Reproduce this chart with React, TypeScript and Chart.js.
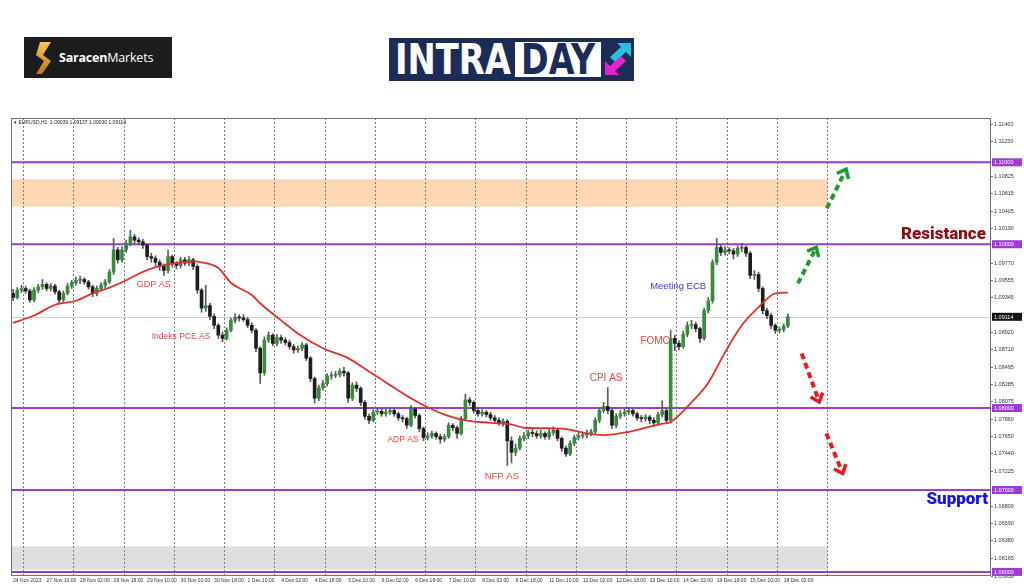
import React, { useEffect, useLayoutEffect, useRef } from 'react';
import { Chart, registerables } from 'chart.js';

Chart.register(...registerables);

// ---------- data ----------
const TIME_LABELS = ['24 Nov 2023', '27 Nov 10:00', '28 Nov 02:00', '28 Nov 18:00', '29 Nov 10:00', '30 Nov 02:00', '30 Nov 18:00', '1 Dec 10:00', '4 Dec 02:00', '4 Dec 18:00', '5 Dec 10:00', '6 Dec 02:00', '6 Dec 18:00', '7 Dec 10:00', '8 Dec 02:00', '8 Dec 18:00', '11 Dec 10:00', '12 Dec 02:00', '12 Dec 18:00', '13 Dec 10:00', '14 Dec 02:00', '14 Dec 18:00', '15 Dec 10:00', '18 Dec 02:00'];

const OPEN = [
  1.0940, 1.0935, 1.0944, 1.0946, 1.0943, 1.0932, 1.0944, 1.0948, 1.0951, 1.0946,
  1.0949, 1.0942, 1.0932, 1.0940, 1.0949, 1.0953, 1.0956, 1.0957, 1.0954, 1.0948,
  1.0940, 1.0946, 1.0950, 1.0954, 1.0966, 1.0993, 1.0981, 1.0993, 1.1001, 1.1009,
  1.1005, 1.1003, 1.0999, 1.0985, 1.0983, 1.0978, 1.0973, 1.0968, 1.0985, 1.0976,
  1.0974, 1.0981, 1.0977, 1.0981, 1.0973, 1.0944, 1.0922, 1.0925, 1.0912, 1.0901,
  1.0889, 1.0885, 1.0895, 1.0907, 1.0911, 1.0910, 1.0908, 1.0901, 1.0895, 1.0873,
  1.0843, 1.0883, 1.0889, 1.0879, 1.0886, 1.0883, 1.0880, 1.0875, 1.0871, 1.0873,
  1.0877, 1.0861, 1.0836, 1.0812, 1.0825, 1.0830, 1.0839, 1.0840, 1.0841, 1.0845,
  1.0843, 1.0812, 1.0828, 1.0824, 1.0807, 1.0790, 1.0785, 1.0795, 1.0796, 1.0793,
  1.0795, 1.0797, 1.0793, 1.0788, 1.0787, 1.0779, 1.0799, 1.0791, 1.0775, 1.0764,
  1.0766, 1.0769, 1.0765, 1.0762, 1.0765, 1.0779, 1.0776, 1.0769, 1.0787, 1.0810,
  1.0807, 1.0797, 1.0793, 1.0795, 1.0792, 1.0788, 1.0785, 1.0782, 1.0784, 1.0760,
  1.0746, 1.0751, 1.0763, 1.0766, 1.0770, 1.0769, 1.0766, 1.0769, 1.0765, 1.0770,
  1.0773, 1.0763, 1.0751, 1.0744, 1.0757, 1.0764, 1.0766, 1.0767, 1.0769, 1.0771,
  1.0785, 1.0797, 1.0802, 1.0797, 1.0779, 1.0790, 1.0793, 1.0795, 1.0797, 1.0793,
  1.0788, 1.0787, 1.0789, 1.0785, 1.0782, 1.0792, 1.0797, 1.0785, 1.0885, 1.0879,
  1.0875, 1.0890, 1.0901, 1.0902, 1.0897, 1.0885, 1.0919, 1.0931, 1.0978, 1.0996,
  1.0990, 1.0993, 1.0992, 1.0988, 1.0995, 1.0996, 1.0989, 1.0962, 1.0963, 1.0946,
  1.0919, 1.0913, 1.0901, 1.0895, 1.0896, 1.0900,
];

const HIGH = [
  1.0945, 1.0947, 1.0950, 1.0949, 1.0945, 1.0947, 1.0951, 1.0957, 1.0953, 1.0952,
  1.0951, 1.0944, 1.0943, 1.0952, 1.0956, 1.0960, 1.0961, 1.0959, 1.0956, 1.0950,
  1.0949, 1.0953, 1.0957, 1.0969, 1.1007, 1.0996, 1.0997, 1.1005, 1.1017, 1.1012,
  1.1008, 1.1006, 1.1001, 1.0989, 1.0986, 1.0981, 1.0976, 1.0993, 1.0987, 1.0979,
  1.0984, 1.0984, 1.0985, 1.0983, 1.0975, 1.0946, 1.0950, 1.0928, 1.0915, 1.0903,
  1.0893, 1.0898, 1.0910, 1.0915, 1.0914, 1.0914, 1.0911, 1.0904, 1.0897, 1.0875,
  1.0887, 1.0893, 1.0891, 1.0890, 1.0889, 1.0886, 1.0883, 1.0878, 1.0876, 1.0880,
  1.0879, 1.0863, 1.0838, 1.0828, 1.0834, 1.0842, 1.0844, 1.0845, 1.0848, 1.0850,
  1.0845, 1.0831, 1.0832, 1.0826, 1.0809, 1.0793, 1.0798, 1.0800, 1.0799, 1.0799,
  1.0800, 1.0799, 1.0795, 1.0791, 1.0789, 1.0803, 1.0801, 1.0793, 1.0777, 1.0770,
  1.0772, 1.0771, 1.0768, 1.0768, 1.0782, 1.0781, 1.0778, 1.0790, 1.0817, 1.0813,
  1.0809, 1.0800, 1.0798, 1.0797, 1.0795, 1.0791, 1.0788, 1.0787, 1.0786, 1.0765,
  1.0756, 1.0766, 1.0770, 1.0773, 1.0774, 1.0772, 1.0773, 1.0771, 1.0774, 1.0777,
  1.0775, 1.0765, 1.0754, 1.0760, 1.0767, 1.0770, 1.0771, 1.0773, 1.0774, 1.0788,
  1.0800, 1.0807, 1.0825, 1.0799, 1.0793, 1.0797, 1.0799, 1.0801, 1.0799, 1.0795,
  1.0791, 1.0792, 1.0791, 1.0788, 1.0795, 1.0809, 1.0799, 1.0895, 1.0889, 1.0882,
  1.0894, 1.0905, 1.0907, 1.0905, 1.0899, 1.0922, 1.0935, 1.0981, 1.1007, 1.0999,
  1.0997, 1.0996, 1.0995, 1.0998, 1.1001, 1.0998, 1.0991, 1.0968, 1.0966, 1.0948,
  1.0922, 1.0916, 1.0903, 1.0899, 1.0903, 1.0915,
];

const LOW = [
  1.0931, 1.0933, 1.0941, 1.0940, 1.0929, 1.0930, 1.0941, 1.0945, 1.0943, 1.0943,
  1.0939, 1.0928, 1.0930, 1.0938, 1.0946, 1.0950, 1.0952, 1.0951, 1.0945, 1.0936,
  1.0937, 1.0944, 1.0947, 1.0952, 1.0963, 1.0977, 1.0978, 1.0990, 1.0998, 1.1001,
  1.0999, 1.0995, 1.0981, 1.0978, 1.0974, 1.0968, 1.0962, 1.0965, 1.0972, 1.0970,
  1.0971, 1.0974, 1.0974, 1.0969, 1.0940, 1.0917, 1.0918, 1.0908, 1.0897, 1.0885,
  1.0881, 1.0883, 1.0893, 1.0904, 1.0906, 1.0906, 1.0898, 1.0892, 1.0869, 1.0830,
  1.0840, 1.0880, 1.0876, 1.0876, 1.0879, 1.0877, 1.0872, 1.0867, 1.0868, 1.0870,
  1.0858, 1.0832, 1.0806, 1.0809, 1.0822, 1.0827, 1.0835, 1.0837, 1.0838, 1.0839,
  1.0807, 1.0809, 1.0820, 1.0803, 1.0786, 1.0781, 1.0783, 1.0792, 1.0790, 1.0790,
  1.0792, 1.0790, 1.0785, 1.0783, 1.0775, 1.0777, 1.0788, 1.0771, 1.0760, 1.0761,
  1.0763, 1.0762, 1.0757, 1.0759, 1.0763, 1.0772, 1.0763, 1.0767, 1.0785, 1.0803,
  1.0794, 1.0790, 1.0790, 1.0789, 1.0785, 1.0781, 1.0779, 1.0778, 1.0730, 1.0733,
  1.0742, 1.0749, 1.0760, 1.0763, 1.0765, 1.0763, 1.0763, 1.0762, 1.0762, 1.0767,
  1.0760, 1.0747, 1.0741, 1.0742, 1.0754, 1.0761, 1.0763, 1.0764, 1.0766, 1.0769,
  1.0782, 1.0794, 1.0793, 1.0775, 1.0776, 1.0787, 1.0790, 1.0792, 1.0790, 1.0785,
  1.0783, 1.0784, 1.0781, 1.0778, 1.0780, 1.0789, 1.0781, 1.0782, 1.0870, 1.0871,
  1.0873, 1.0887, 1.0897, 1.0893, 1.0880, 1.0883, 1.0916, 1.0928, 1.0975, 1.0986,
  1.0987, 1.0988, 1.0982, 1.0985, 1.0991, 1.0985, 1.0958, 1.0957, 1.0942, 1.0915,
  1.0909, 1.0897, 1.0891, 1.0892, 1.0893, 1.0898,
];

const CLOSE = [
  1.0935, 1.0944, 1.0946, 1.0943, 1.0932, 1.0944, 1.0948, 1.0951, 1.0946, 1.0949,
  1.0942, 1.0932, 1.0940, 1.0949, 1.0953, 1.0956, 1.0957, 1.0954, 1.0948, 1.0940,
  1.0946, 1.0950, 1.0954, 1.0966, 1.0993, 1.0981, 1.0993, 1.1001, 1.1009, 1.1005,
  1.1003, 1.0999, 1.0985, 1.0983, 1.0978, 1.0973, 1.0968, 1.0985, 1.0976, 1.0974,
  1.0981, 1.0977, 1.0981, 1.0973, 1.0944, 1.0922, 1.0925, 1.0912, 1.0901, 1.0889,
  1.0885, 1.0895, 1.0907, 1.0911, 1.0910, 1.0908, 1.0901, 1.0895, 1.0873, 1.0843,
  1.0883, 1.0889, 1.0879, 1.0886, 1.0883, 1.0880, 1.0875, 1.0871, 1.0873, 1.0877,
  1.0861, 1.0836, 1.0812, 1.0825, 1.0830, 1.0839, 1.0840, 1.0841, 1.0845, 1.0843,
  1.0812, 1.0828, 1.0824, 1.0807, 1.0790, 1.0785, 1.0795, 1.0796, 1.0793, 1.0795,
  1.0797, 1.0793, 1.0788, 1.0787, 1.0779, 1.0799, 1.0791, 1.0775, 1.0764, 1.0766,
  1.0769, 1.0765, 1.0762, 1.0765, 1.0779, 1.0776, 1.0769, 1.0787, 1.0810, 1.0807,
  1.0797, 1.0793, 1.0795, 1.0792, 1.0788, 1.0785, 1.0782, 1.0784, 1.0760, 1.0746,
  1.0751, 1.0763, 1.0766, 1.0770, 1.0769, 1.0766, 1.0769, 1.0765, 1.0770, 1.0773,
  1.0763, 1.0751, 1.0744, 1.0757, 1.0764, 1.0766, 1.0767, 1.0769, 1.0771, 1.0785,
  1.0797, 1.0802, 1.0797, 1.0779, 1.0790, 1.0793, 1.0795, 1.0797, 1.0793, 1.0788,
  1.0787, 1.0789, 1.0785, 1.0782, 1.0792, 1.0797, 1.0785, 1.0885, 1.0879, 1.0875,
  1.0890, 1.0901, 1.0902, 1.0897, 1.0885, 1.0919, 1.0931, 1.0978, 1.0996, 1.0990,
  1.0993, 1.0992, 1.0988, 1.0995, 1.0996, 1.0989, 1.0962, 1.0963, 1.0946, 1.0919,
  1.0913, 1.0901, 1.0895, 1.0896, 1.0900, 1.09114,
];

// moving average, read at selected bars (bar index, price)
const MA_INDEX = [0, 5, 10, 15, 19, 23, 27, 30, 34, 39, 43, 45, 49, 52, 57, 59, 64, 68, 74, 80, 84, 90, 95, 99, 103, 108, 114, 119, 122, 131, 137, 141, 147, 155, 157, 162, 166, 170, 174, 178, 182, 185];
const MA_VALUE = [1.0904, 1.0913, 1.0926, 1.0931, 1.0940, 1.0947, 1.0956, 1.0964, 1.0972, 1.0977, 1.0979, 1.0978, 1.0971, 1.0953, 1.0938, 1.0928, 1.0907, 1.0891, 1.0873, 1.0861, 1.0848, 1.0828, 1.0812, 1.0801, 1.0792, 1.0785, 1.0782, 1.0780, 1.0776, 1.0775, 1.0769, 1.0767, 1.0771, 1.0781, 1.0783, 1.0807, 1.0831, 1.0868, 1.0901, 1.0923, 1.0940, 1.0941];

const Y_TICKS = [1.1146, 1.1125, 1.10825, 1.10615, 1.10405, 1.1019, 1.0977, 1.09555, 1.09345, 1.0892, 1.0871, 1.08495, 1.08285, 1.08075, 1.0786, 1.0765, 1.0744, 1.07225, 1.068, 1.0659, 1.0638, 1.06165, 1.0595];
const LEVELS = [1.11, 1.10, 1.08, 1.07, 1.06];
const LAST_PRICE = 1.09114;
const HEADER = '\u25BE EURUSD,H1  1.09039 1.09137 1.09030 1.09114';

const ZONES = [
  { from: 1.10457, to: 1.10792, color: '#fdd7b3' },
  { from: 1.06027, to: 1.06312, color: '#dedede' },
];

const NOTES = [
  { text: 'GDP AS', slot: 33.6, price: 1.0951, color: '#e4453c', size: 9 },
  { text: 'Indeks PCE AS', slot: 40.1, price: 1.08874, color: '#e4453c', size: 8.5 },
  { text: 'ADP AS', slot: 93.1, price: 1.07615, color: '#e4453c', size: 8.5 },
  { text: 'NFP AS', slot: 116.7, price: 1.07163, color: '#e4453c', size: 9.5 },
  { text: 'CPI AS', slot: 141.6, price: 1.08361, color: '#e4453c', size: 10 },
  { text: 'FOMC', slot: 153.3, price: 1.08813, color: '#e4453c', size: 10 },
  { text: 'Meeting ECB', slot: 158.8, price: 1.09485, color: '#3a3ad0', size: 9.5 },
];

const BIG_NOTES = [
  { text: 'Resistance', slot: 232.3, price: 1.10114, color: '#8a0f12' },
  { text: 'Support', slot: 232.8, price: 1.06876, color: '#1414e6' },
];

const ARROWS = [
  { from: [194.3, 1.10438], to: [198.9, 1.10915], color: '#1f9a2c' },
  { from: [187.4, 1.09522], to: [191.8, 1.09962], color: '#1f9a2c' },
  { from: [188.3, 1.08666], to: [192.5, 1.08074], color: '#e81b1b' },
  { from: [194.2, 1.07689], to: [198.1, 1.07200], color: '#e81b1b' },
];

// ---------- layout constants ----------
const SLOT_COUNT = 234;
const LABEL_EVERY = 8;
const DAY_SLOTS = 12;
const FIRST_DAY_SLOT = 3;
const LAST_DAY_SLOT = 195;
const ZONE_END_SLOT = 195;
const Y_MIN = 1.0595;
const Y_MAX = 1.11541;
const BULL = '#3a8a3f';
const BEAR = '#1e1e1e';
const WICK = '#5a5a5a';
const LEVEL_COLOR = '#9c3ad6';
const SMALL_FONT = '"Liberation Sans", Arial, sans-serif';
const LOGO_FONT = '"Liberation Sans Narrow", "DejaVu Sans Condensed", "Liberation Sans", Arial, sans-serif';

function drawArrow(ctx: CanvasRenderingContext2D, x1: number, y1: number, x2: number, y2: number, color: string) {
  const ang = Math.atan2(y2 - y1, x2 - x1);
  ctx.save();
  ctx.strokeStyle = color;
  ctx.lineWidth = 4;
  ctx.setLineDash([6, 4]);
  ctx.beginPath();
  ctx.moveTo(x1, y1);
  ctx.lineTo(x2 - 4 * Math.cos(ang), y2 - 4 * Math.sin(ang));
  ctx.stroke();
  ctx.setLineDash([]);
  ctx.lineWidth = 3.5;
  ctx.lineJoin = 'miter';
  const L = 10, a = 0.7;
  ctx.beginPath();
  ctx.moveTo(x2 - L * Math.cos(ang - a), y2 - L * Math.sin(ang - a));
  ctx.lineTo(x2, y2);
  ctx.lineTo(x2 - L * Math.cos(ang + a), y2 - L * Math.sin(ang + a));
  ctx.stroke();
  ctx.restore();
}

const overlay = {
  id: 'overlay',
  beforeDraw(chart: any) {
    const { ctx, chartArea: a, scales } = chart;
    const x = scales.x, y = scales.y;
    const xEnd = x.getPixelForValue(ZONE_END_SLOT - 0.5);
    ctx.save();
    ZONES.forEach((z) => {
      const y1 = y.getPixelForValue(z.to);
      const y2 = y.getPixelForValue(z.from);
      ctx.fillStyle = z.color;
      ctx.fillRect(a.left, y1, xEnd - a.left, y2 - y1);
    });
    ctx.restore();
  },
  beforeDatasetsDraw(chart: any) {
    const { ctx, chartArea: a, scales } = chart;
    const y = scales.y;
    ctx.save();
    const yl = Math.round(y.getPixelForValue(LAST_PRICE)) + 0.5;
    ctx.strokeStyle = '#cfcfcf';
    ctx.lineWidth = 1;
    ctx.beginPath();
    ctx.moveTo(a.left, yl);
    ctx.lineTo(a.right, yl);
    ctx.stroke();
    ctx.strokeStyle = LEVEL_COLOR;
    ctx.lineWidth = 2;
    LEVELS.forEach((v) => {
      const yy = y.getPixelForValue(v);
      ctx.beginPath();
      ctx.moveTo(a.left, yy);
      ctx.lineTo(a.right, yy);
      ctx.stroke();
    });
    ctx.restore();
  },
  afterDatasetsDraw(chart: any) {
    const { ctx, chartArea: a, scales } = chart;
    const x = scales.x, y = scales.y;
    ctx.save();
    ctx.textAlign = 'center';
    ctx.textBaseline = 'middle';
    NOTES.forEach((n) => {
      ctx.font = `${n.size}px ${SMALL_FONT}`;
      ctx.fillStyle = n.color;
      ctx.fillText(n.text, x.getPixelForValue(n.slot), y.getPixelForValue(n.price));
    });
    ctx.textAlign = 'right';
    BIG_NOTES.forEach((n) => {
      ctx.font = `900 17px Roboto, "Liberation Sans", sans-serif`;
      ctx.fillStyle = n.color;
      ctx.fillText(n.text, x.getPixelForValue(n.slot), y.getPixelForValue(n.price));
    });
    ARROWS.forEach((r) => {
      drawArrow(ctx, x.getPixelForValue(r.from[0]), y.getPixelForValue(r.from[1]), x.getPixelForValue(r.to[0]), y.getPixelForValue(r.to[1]), r.color);
    });
    ctx.textAlign = 'left';
    ctx.font = `5px ${SMALL_FONT}`;
    ctx.fillStyle = '#222';
    ctx.fillText(HEADER, a.left + 3, a.top + 5);
    ctx.restore();
  },
  afterDraw(chart: any) {
    const { ctx, chartArea: a, scales } = chart;
    const y = scales.y;
    ctx.save();
    ctx.strokeStyle = '#6f6f6f';
    ctx.lineWidth = 1;
    ctx.strokeRect(a.left + 0.5, a.top + 0.5, a.width - 1, a.height - 1);
    ctx.font = `5.5px ${SMALL_FONT}`;
    ctx.textBaseline = 'middle';
    ctx.textAlign = 'left';
    const box = (v: number, fill: string) => {
      const yy = y.getPixelForValue(v);
      ctx.fillStyle = fill;
      ctx.fillRect(a.right + 1, yy - 4, 30, 8);
      ctx.fillStyle = '#ffffff';
      ctx.fillText(v.toFixed(5), a.right + 3, yy + 0.5);
    };
    LEVELS.forEach((v) => box(v, LEVEL_COLOR));
    box(LAST_PRICE, '#111111');
    ctx.restore();
  },
};

function FitText({ text, width, style }: { text: string; width: number; style: React.CSSProperties }) {
  const r = useRef<HTMLSpanElement>(null);
  useLayoutEffect(() => {
    const el = r.current;
    if (!el) return;
    el.style.transform = 'none';
    const w = el.getBoundingClientRect().width;
    if (w > 0) el.style.transform = `scaleX(${width / w})`;
  }, [text, width]);
  return (
    <span ref={r} style={{ ...style, display: 'inline-block', transformOrigin: '0 0', whiteSpace: 'nowrap' }}>
      {text}
    </span>
  );
}

export default function App() {
  const ref = useRef<HTMLCanvasElement>(null);

  useEffect(() => {
    const canvas = ref.current;
    if (!canvas) return;
    const labels = Array.from({ length: SLOT_COUNT }, (_, i) =>
      i % LABEL_EVERY === 0 && TIME_LABELS[i / LABEL_EVERY] ? TIME_LABELS[i / LABEL_EVERY] : ''
    );
    const wickData = LOW.map((l, i) => [l, HIGH[i]]);
    const bodyData = OPEN.map((o, i) => [o, CLOSE[i]]);
    const bodyColors = OPEN.map((o, i) => (CLOSE[i] >= o ? BULL : BEAR));
    const maData: (number | null)[] = OPEN.map(() => null);
    MA_INDEX.forEach((idx, k) => {
      maData[idx] = MA_VALUE[k];
    });
    const isSep = (i: number) => i >= FIRST_DAY_SLOT && i <= LAST_DAY_SLOT && (i - FIRST_DAY_SLOT) % DAY_SLOTS === 0;

    const chart = new Chart(canvas, {
      type: 'bar',
      data: {
        labels,
        datasets: [
          {
            type: 'line',
            label: 'MA',
            data: maData,
            borderColor: '#e0302b',
            borderWidth: 1.8,
            pointRadius: 0,
            spanGaps: true,
            cubicInterpolationMode: 'monotone',
            order: 0,
          } as any,
          {
            label: 'body',
            data: bodyData,
            backgroundColor: bodyColors,
            barThickness: 3,
            grouped: false,
            minBarLength: 1,
            order: 1,
          } as any,
          {
            label: 'wick',
            data: wickData,
            backgroundColor: WICK,
            barThickness: 1,
            grouped: false,
            order: 2,
          } as any,
        ],
      },
      options: {
        responsive: false,
        animation: false,
        devicePixelRatio: 1,
        events: [],
        layout: { padding: { left: 11, top: 8, right: 0, bottom: 0 } },
        plugins: { legend: { display: false }, tooltip: { enabled: false } },
        scales: {
          x: {
            type: 'category',
            offset: true,
            grid: {
              offset: true,
              drawTicks: false,
              lineWidth: 1,
              color: (c: any) => (isSep(c.index) ? '#7c7c7c' : 'rgba(0,0,0,0)'),
            },
            border: { display: false, dash: [2, 2] },
            ticks: {
              autoSkip: false,
              maxRotation: 0,
              minRotation: 0,
              align: 'start',
              padding: 2,
              color: '#333',
              font: { size: 5, family: SMALL_FONT },
            },
            afterFit: (s: any) => {
              s.height = 11;
            },
          },
          y: {
            position: 'right',
            min: Y_MIN,
            max: Y_MAX,
            afterBuildTicks: (s: any) => {
              s.ticks = Y_TICKS.map((v) => ({ value: v }));
            },
            grid: { drawOnChartArea: false, drawTicks: true, tickLength: 2, color: '#777' },
            border: { display: false },
            ticks: {
              autoSkip: false,
              padding: 1,
              color: '#333',
              font: { size: 5.5, family: SMALL_FONT },
              callback: (v: any) => Number(v).toFixed(5),
            },
            afterFit: (s: any) => {
              s.width = 33;
            },
          },
        },
      } as any,
      plugins: [overlay],
    });
    return () => chart.destroy();
  }, []);

  return (
    <div style={{ position: 'absolute', left: 0, top: 0, width: 1024, height: 587, background: '#ffffff', overflow: 'hidden' }}>
      {/* Saracen Markets logo */}
      <div style={{ position: 'absolute', left: 24, top: 37, width: 148, height: 41, background: '#1c1c1c', display: 'flex', alignItems: 'center' }}>
        <svg width="20" height="32" viewBox="0 0 20 32" style={{ marginLeft: 10 }}>
          <defs>
            <linearGradient id="gold" x1="0" y1="0" x2="0" y2="1">
              <stop offset="0" stopColor="#f6c852" />
              <stop offset="1" stopColor="#b57b18" />
            </linearGradient>
          </defs>
          <polygon points="6,0 17,0 9,13 17,19 8,32 2,32 10,19 2,13" fill="url(#gold)" />
        </svg>
        <span style={{ color: '#ffffff', fontFamily: '"Open Sans", sans-serif', fontSize: 12.5, marginLeft: 5, letterSpacing: -0.2 }}>
          <span style={{ fontWeight: 700 }}>Saracen</span>
          <span style={{ fontWeight: 400 }}>Markets</span>
        </span>
      </div>
      {/* INTRADAY logo */}
      <div style={{ position: 'absolute', left: 389, top: 38, width: 245, height: 43, background: '#1d2c57' }}>
        <div style={{ position: 'absolute', left: 6, top: 0 }}>
          <FitText text="INTRA" width={116} style={{ lineHeight: '43px', fontFamily: LOGO_FONT, fontWeight: 700, fontSize: 42, color: '#ffffff' }} />
        </div>
        <div style={{ position: 'absolute', left: 126, top: 4, width: 86, height: 35, background: '#ffffff' }}>
          <div style={{ position: 'absolute', left: 6, top: -4 }}>
            <FitText text="DAY" width={74} style={{ lineHeight: '43px', fontFamily: LOGO_FONT, fontWeight: 700, fontSize: 42, color: '#1d2c57' }} />
          </div>
        </div>
        <svg width="30" height="38" viewBox="0 0 30 38" style={{ position: 'absolute', left: 214, top: 2 }}>
          <polygon points="14,3 28,3 28,17 23,12 12,22 7,17 18,7" fill="#27c1d9" />
          <polygon points="16,35 2,35 2,21 7,26 18,16 23,21 12,31" fill="#e424c8" />
        </svg>
      </div>
      <canvas ref={ref} width={1024} height={477} style={{ position: 'absolute', left: 0, top: 110, width: 1024, height: 477 }} />
    </div>
  );
}
